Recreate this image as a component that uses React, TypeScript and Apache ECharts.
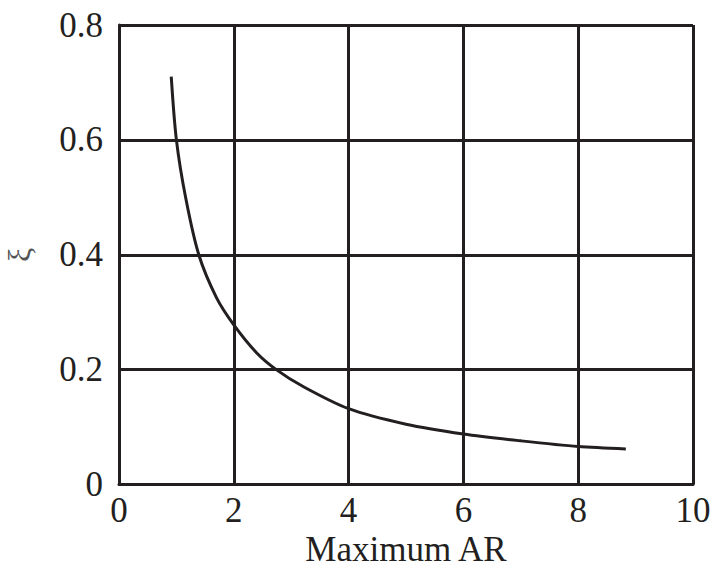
import React, { useEffect, useRef } from "react";
import * as echarts from "echarts";

const arValues = [0.91, 1.0, 1.16, 1.39, 1.7, 2.0, 2.4, 2.74, 3.2, 4.0, 5.0, 6.0, 7.0, 8.0, 8.83];
const xiValues = [0.71, 0.6, 0.5, 0.4, 0.325, 0.278, 0.229, 0.2, 0.171, 0.132, 0.105, 0.088, 0.076, 0.066, 0.062];
const xTicks = [0, 2, 4, 6, 8, 10];
const yTicks = [0, 0.2, 0.4, 0.6, 0.8];

const INK = "#231f20";
const FONT = "'Liberation Serif', 'Times New Roman', serif";

export default function App() {
  const ref = useRef<HTMLDivElement>(null);
  useEffect(() => {
    if (!ref.current) return;
    const chart = echarts.init(ref.current, null, { renderer: "svg" });
    chart.setOption({
      animation: false,
      backgroundColor: "#ffffff",
      grid: {
        left: 119,
        right: 19,
        top: 25,
        bottom: 81.5,
        containLabel: false,
        outerBoundsMode: "none",
      },
      xAxis: {
        type: "value",
        min: xTicks[0],
        max: xTicks[xTicks.length - 1],
        interval: 2,
        name: "Maximum AR",
        nameLocation: "middle",
        nameGap: 38,
        nameTextStyle: { fontFamily: FONT, fontSize: 35, color: INK },
        axisLine: { show: true, lineStyle: { color: INK, width: 3 } },
        axisTick: { show: false },
        splitLine: { show: true, lineStyle: { color: INK, width: 3 } },
        axisLabel: { fontFamily: FONT, fontSize: 35, color: INK, margin: 8 },
      },
      yAxis: {
        type: "value",
        min: yTicks[0],
        max: yTicks[yTicks.length - 1],
        interval: 0.2,
        name: "ξ",
        nameLocation: "middle",
        nameRotate: 90,
        nameGap: 84,
        nameTextStyle: { fontFamily: FONT, fontSize: 32, color: "#555" },
        axisLine: { show: true, lineStyle: { color: INK, width: 3 } },
        axisTick: { show: false },
        splitLine: { show: true, lineStyle: { color: INK, width: 3 } },
        axisLabel: {
          fontFamily: FONT,
          fontSize: 35,
          color: INK,
          margin: 16,
          formatter: (v: number) => (v === 0 ? "0" : v.toFixed(1)),
        },
      },
      series: [
        {
          type: "line",
          data: arValues.map((x, i) => [x, xiValues[i]]),
          smooth: 0.3,
          showSymbol: false,
          lineStyle: { color: INK, width: 3 },
        },
      ],
    });
    return () => chart.dispose();
  }, []);
  return <div ref={ref} style={{ width: 712, height: 566, position: "absolute", left: 0, top: 0 }} />;
}
